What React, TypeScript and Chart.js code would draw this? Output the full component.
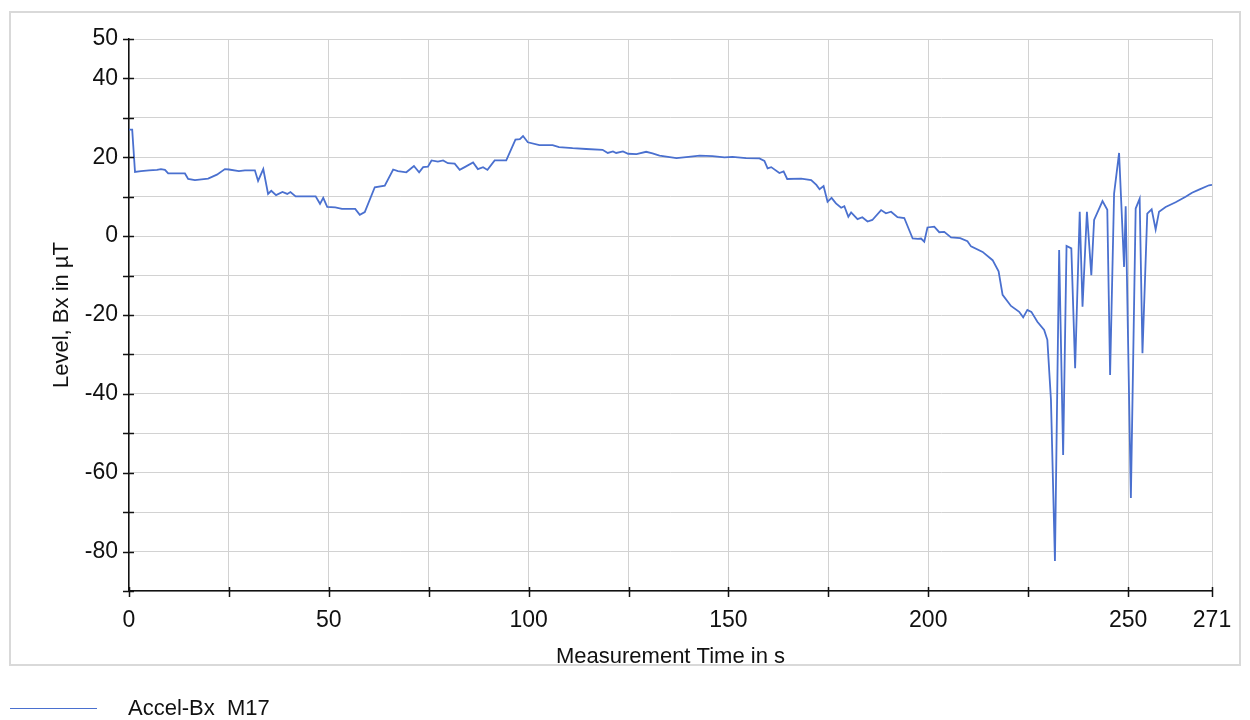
import React, { useEffect, useRef } from "react";
import { Chart, registerables } from "chart.js";

Chart.register(...registerables);

const seriesLabel = "Accel-Bx  M17";
const xTitle = "Measurement Time in s";
const yTitle = "Level, Bx in µT";

const xTickValues = [0, 25, 50, 75, 100, 125, 150, 175, 200, 225, 250, 271];

const times = [
  0, 0.8, 1.5, 3, 5, 7, 8, 9, 9.8, 12,
  14, 14.8, 16.5, 19.8, 22, 24, 25, 27.5, 29, 30.8,
  31.5, 32.3, 33.6, 34.8, 35.6, 36.8, 38.4, 39.6, 40.4, 41.7,
  46.7, 47.8, 48.6, 49.6, 51.6, 53.3, 56.6, 57.75, 59, 61.5,
  64, 66.1, 67.3, 69.4, 71.3, 72.6, 73.6, 74.8, 75.7, 77.3,
  78.6, 79.8, 81.5, 82.75, 84, 86.1, 87.3, 88.6, 89.7, 91.5,
  94.4, 96.7, 97.8, 98.6, 99.8, 102.7, 106, 107.6, 111, 114.4,
  118.5, 119.8, 121.1, 121.9, 123.6, 124.9, 127, 129.4, 131, 132.75,
  137, 140, 142.8, 146, 149, 151, 154.4, 157.75, 159, 159.8,
  160.7, 162.75, 163.8, 164.7, 168.2, 170.7, 172, 172.8, 173.8, 174.8,
  175.8, 176.9, 178.2, 179, 180, 180.7, 182.3, 183.5, 184.8, 186,
  188.2, 189.4, 190.7, 192.3, 194, 195.25, 196.1, 197.4, 198.2, 199,
  199.8, 201.5, 202.75, 204, 205.7, 208, 209.8, 210.7, 213.6, 216.1,
  217.6, 218.6, 220.7, 222.75, 223.75, 224.8, 225.8, 227.3, 229, 229.8,
  230.7, 231.7, 232.75, 233.75, 234.6, 235.8, 236.75, 237.9, 238.6, 239.7,
  240.8, 241.5, 243.6, 244.8, 245.5, 246.5, 247.75, 249, 249.4, 250.7,
  251.9, 252.9, 253.6, 254.8, 255.9, 256.9, 257.75, 259.4, 261.9, 264.4,
  266, 267.75, 270.25, 271,
];

const levels = [
  27, 27, 16.3, 16.5, 16.7, 16.8, 17.0, 16.8, 15.9, 15.9,
  15.9, 14.5, 14.2, 14.6, 15.6, 17.0, 16.9, 16.5, 16.7, 16.7,
  16.7, 14.0, 17.0, 10.7, 11.5, 10.4, 11.2, 10.7, 11.2, 10.1,
  10.1, 8.2, 9.7, 7.4, 7.3, 6.9, 6.9, 5.4, 6.1, 12.4,
  12.8, 16.9, 16.5, 16.2, 17.8, 16.2, 17.5, 17.6, 19.2, 18.9,
  19.2, 18.5, 18.4, 16.8, 17.5, 18.7, 17.0, 17.5, 16.8, 19.2,
  19.2, 24.5, 24.6, 25.4, 23.8, 23.1, 23.1, 22.6, 22.3, 22.1,
  21.9, 21.1, 21.5, 21.1, 21.5, 20.9, 20.8, 21.4, 21.0, 20.4,
  19.8, 20.1, 20.4, 20.3, 20.0, 20.1, 19.8, 19.7, 19.1, 17.2,
  17.5, 16.0, 16.4, 14.5, 14.6, 14.2, 13.0, 11.9, 12.7, 8.7,
  9.7, 8.3, 7.2, 7.6, 4.9, 6.0, 4.3, 4.8, 3.7, 4.1,
  6.6, 5.8, 6.2, 4.8, 4.6, 1.5, -0.6, -0.7, -0.6, -1.4,
  2.2, 2.4, 1.0, 1.1, -0.3, -0.5, -1.3, -2.6, -4.0, -6.1,
  -8.9, -14.9, -17.7, -19.2, -20.6, -18.7, -19.2, -21.7, -23.8, -26.3,
  -41.5, -82.4, -3.5, -55.5, -2.5, -3.1, -33.5, 6.2, -17.9, 6.2,
  -9.9, 4.1, 8.9, 6.7, -35.2, 10.8, 21.1, -7.8, 7.6, -66.4,
  7.0, 9.5, -29.7, 5.7, 6.8, 1.7, 6.2, 7.4, 8.6, 10.0,
  11.0, 11.8, 12.9, 13.0,
];

const FONT = "'Liberation Sans', Arial, Helvetica, sans-serif";
const FS = 23;
const TEXT = "#111";
const LINE = "#4a70cf";
const GRID = "#d2d2d2";

const decorPlugin = {
  id: "decor",
  beforeDraw(chart: any) {
    const ctx = chart.ctx;
    ctx.save();
    ctx.strokeStyle = "#d9d9d9";
    ctx.lineWidth = 2;
    ctx.strokeRect(10, 12, 1230, 653);
    ctx.restore();
  },
  afterDraw(chart: any) {
    const ctx = chart.ctx;
    const xs = chart.scales.x;
    const ys = chart.scales.y;
    const area = chart.chartArea;
    ctx.save();
    ctx.strokeStyle = "#111";
    ctx.lineWidth = 1.5;
    ctx.beginPath();
    ys.ticks.forEach((t: any) => {
      const py = Math.round(ys.getPixelForValue(t.value)) + 0.5;
      ctx.moveTo(area.left - 6, py);
      ctx.lineTo(area.left + 5, py);
    });
    xs.ticks.forEach((t: any) => {
      const px = Math.round(xs.getPixelForValue(t.value)) + 0.5;
      ctx.moveTo(px, area.bottom - 4);
      ctx.lineTo(px, area.bottom + 6);
    });
    ctx.stroke();

    // legend
    const ds = chart.data.datasets[0];
    ctx.strokeStyle = ds.borderColor;
    ctx.lineWidth = 1.2;
    ctx.beginPath();
    ctx.moveTo(10, 708.5);
    ctx.lineTo(97, 708.5);
    ctx.stroke();
    ctx.fillStyle = TEXT;
    ctx.font = `${FS - 1}px ${FONT}`;
    ctx.textBaseline = "middle";
    ctx.textAlign = "left";
    ctx.fillText(ds.label, 128, 709);
    ctx.restore();
  },
};

export default function App() {
  const canvasRef = useRef<HTMLCanvasElement | null>(null);

  useEffect(() => {
    if (!canvasRef.current) return;
    const points = times.map((t, i) => ({ x: t, y: levels[i] }));
    const chart = new Chart(canvasRef.current, {
      type: "line",
      data: {
        datasets: [
          {
            label: seriesLabel,
            data: points,
            borderColor: LINE,
            backgroundColor: LINE,
            borderWidth: 1.8,
            pointRadius: 0,
            tension: 0,
            fill: false,
          },
        ],
      },
      options: {
        responsive: false,
        animation: false,
        maintainAspectRatio: false,
        layout: { padding: { left: 0, top: 39, right: 38, bottom: 49 } },
        plugins: {
          legend: { display: false },
          tooltip: { enabled: false },
        },
        scales: {
          x: {
            type: "linear",
            min: 0,
            max: 271,
            afterFit: (s: any) => {
              s.height = 80;
            },
            afterBuildTicks: (s: any) => {
              s.ticks = xTickValues.map((v) => ({ value: v }));
            },
            grid: { color: GRID, lineWidth: 1, drawTicks: false },
            border: { display: true, color: "#111", width: 1.5 },
            ticks: {
              padding: 16,
              color: TEXT,
              font: { family: FONT, size: FS },
              maxRotation: 0,
              autoSkip: false,
              callback: (v: any) => (v % 50 === 0 || v === 271 ? String(v) : ""),
            },
            title: {
              display: true,
              text: xTitle,
              color: TEXT,
              font: { family: FONT, size: FS - 1 },
              padding: { top: 0, bottom: 1 },
            },
          },
          y: {
            type: "linear",
            min: -90,
            max: 50,
            afterFit: (s: any) => {
              s.width = 129;
            },
            grid: { color: GRID, lineWidth: 1, drawTicks: false },
            border: { display: true, color: "#111", width: 1.5 },
            ticks: {
              stepSize: 10,
              padding: 11,
              color: TEXT,
              font: { family: FONT, size: FS },
              autoSkip: false,
              callback: (v: any) => (v % 20 === 0 || v === 50 ? String(v) : ""),
            },
            title: {
              display: true,
              text: yTitle,
              color: TEXT,
              font: { family: FONT, size: FS - 1 },
              padding: { top: 49, bottom: 0 },
            },
          },
        },
      },
      plugins: [decorPlugin],
    });
    return () => chart.destroy();
  }, []);

  return (
    <div style={{ position: "fixed", left: 0, top: 0, width: 1250, height: 720, background: "#fff" }}>
      <canvas ref={canvasRef} width={1250} height={720} style={{ width: 1250, height: 720, display: "block" }} />
    </div>
  );
}
